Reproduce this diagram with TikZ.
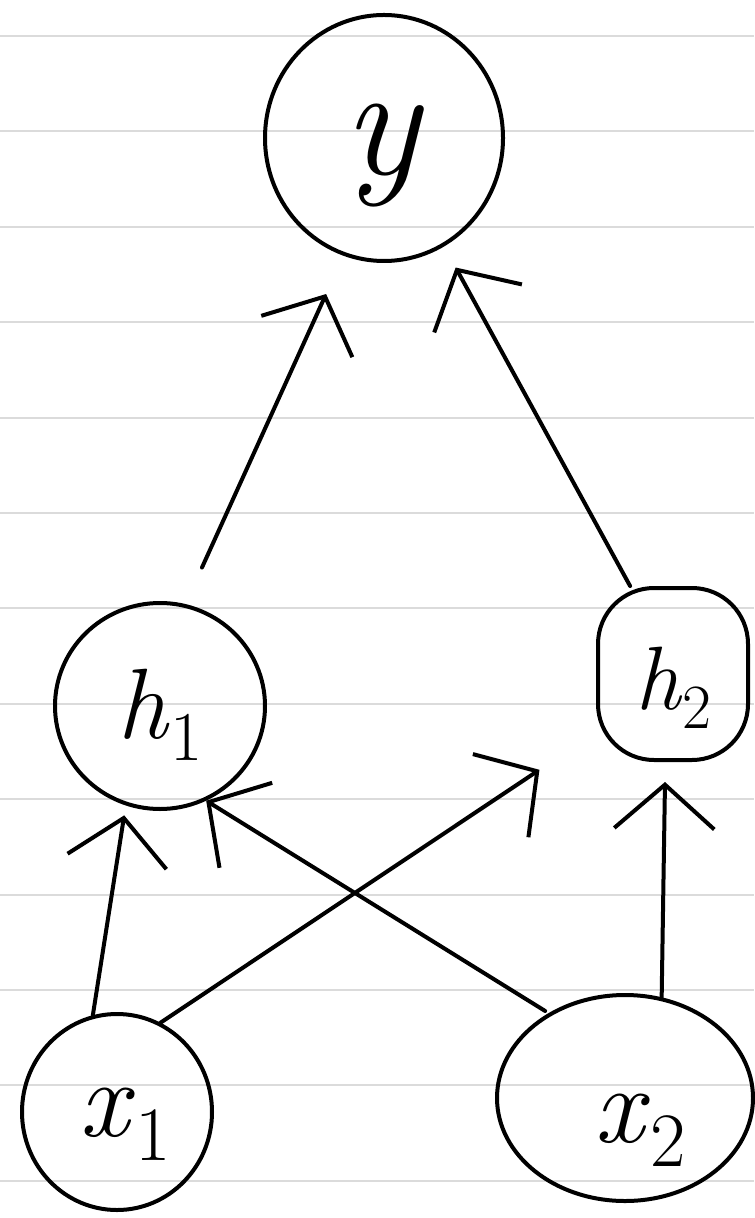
\documentclass[tikz,border=0pt]{standalone}
\usepackage{graphicx}
\usetikzlibrary{arrows.meta,shapes.geometric}
% italic letter with a lowered index
\newcommand\varlabel[2]{\textit{#1}\raisebox{-0.22em}{\scalebox{0.7}{#2}}}
% place a label with its baseline a given distance below the node centre
\newcommand\sunk[2]{\raisebox{-#1}[0pt][0pt]{#2}}
\begin{document}
\begin{tikzpicture}[x=0.5pt,y=-0.5pt,
  ruled/.style={draw=black!14,line width=1pt},
  pen/.style={line width=2pt,line cap=round,line join=round},
  bubble/.style={ellipse,draw,pen,inner sep=0pt},
  arr/.style={pen,-{Straight Barb[length=22pt,width=50pt]}},
  lbl/.style={font=\fontsize{#1}{#1}\selectfont}
]
% page and ruling
\useasboundingbox[fill=white] (0,0) rectangle (754,1218);
\foreach \k in {0,...,12}
  \draw[ruled] (0,{36+95.4*\k}) -- (754,{36+95.4*\k});

% nodes
\node[bubble,minimum width=119pt,minimum height=123pt,lbl=80pt] (y) at (384,138) {\sunk{18.5pt}{\textit{y}}};
\node[bubble,minimum width=105pt,minimum height=103pt,lbl=50pt] (h1) at (160,706) {\sunk{16pt}{\varlabel{h}{1}}};
\node[draw,pen,rounded corners=28pt,minimum width=75pt,minimum height=86pt,inner sep=0pt,lbl=45pt] (h2) at (673,674) {\sunk{17.5pt}{\varlabel{h}{2}}};
\node[bubble,minimum width=95pt,minimum height=98pt,lbl=55pt] (x1) at (117,1112) {\sunk{12pt}{\hspace{8pt}\varlabel{x}{1}}};
\node[bubble,minimum width=128pt,minimum height=103pt,lbl=55pt] (x2) at (625,1098) {\sunk{22pt}{\hspace{15pt}\varlabel{x}{2}}};

% connectors
\draw[arr,shorten >=5pt] (x1.104) -- (h1.251);
\draw[arr,shorten >=34pt] (x1.64) -- (h2.217);
\draw[arr,shorten <=2pt] (x2.132) -- (h1.296);
\draw[arr,shorten >=10pt] (x2.70) -- (h2.265);
\draw[arr,shorten <=20pt,shorten >=21pt] (h1.76) -- (y.251);
\draw[arr,shorten >=12pt] (h2.116) -- (y.299);
\end{tikzpicture}
\end{document}
